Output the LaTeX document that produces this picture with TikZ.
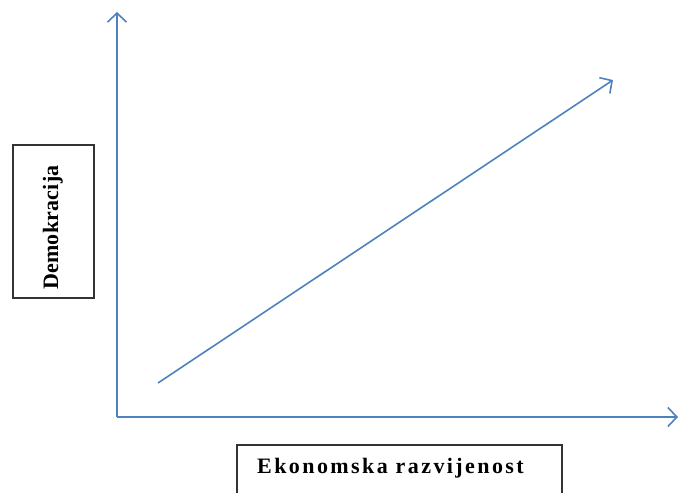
\documentclass[tikz,border=0pt]{standalone}
\usepackage{fontspec}
\setmainfont{Liberation Serif}
\newfontfamily\spaced[LetterSpace=11]{Liberation Serif}
\newfontfamily\lightspaced[LetterSpace=1]{Liberation Serif}
\usetikzlibrary{arrows.meta}
\definecolor{axisblue}{RGB}{79,129,189}
\begin{document}
\begin{tikzpicture}[x=1pt,y=-1pt,
  axis/.style={draw=axisblue,line width=1.6pt,-{Straight Barb[length=9pt,width=19pt,line width=1.6pt]}},
  labelbox/.style={draw=black!80,line width=1.2pt,fill=white,inner sep=0pt}]
\useasboundingbox (0,0) rectangle (678,493);
\coordinate (O) at (117,417);
\coordinate (Ytop) at (117,12);
\coordinate (Xend) at (678,417);
\coordinate (Ds) at (158,383);
\coordinate (De) at (613,80);
\draw[axis] (O) -- (Ytop);
\draw[axis] (O) -- (Xend);
\draw[axis] (Ds) -- (De);
\node[labelbox,minimum width=81,minimum height=153] (dem) at (53.5,221.5) {};
\node[rotate=90,anchor=base,font=\lightspaced\bfseries\fontsize{22}{24}\selectfont] (demt) at (58,227.5) {Demokracija};
\draw[black!80,line width=1.2pt] (237,500) -- (237,445) -- (562,445) -- (562,500);
\node[font=\spaced\bfseries\fontsize{22}{24}\selectfont,anchor=base west,inner sep=0pt] (ek) at (257,473) {Ekonomska razvijenost};
\end{tikzpicture}
\end{document}
